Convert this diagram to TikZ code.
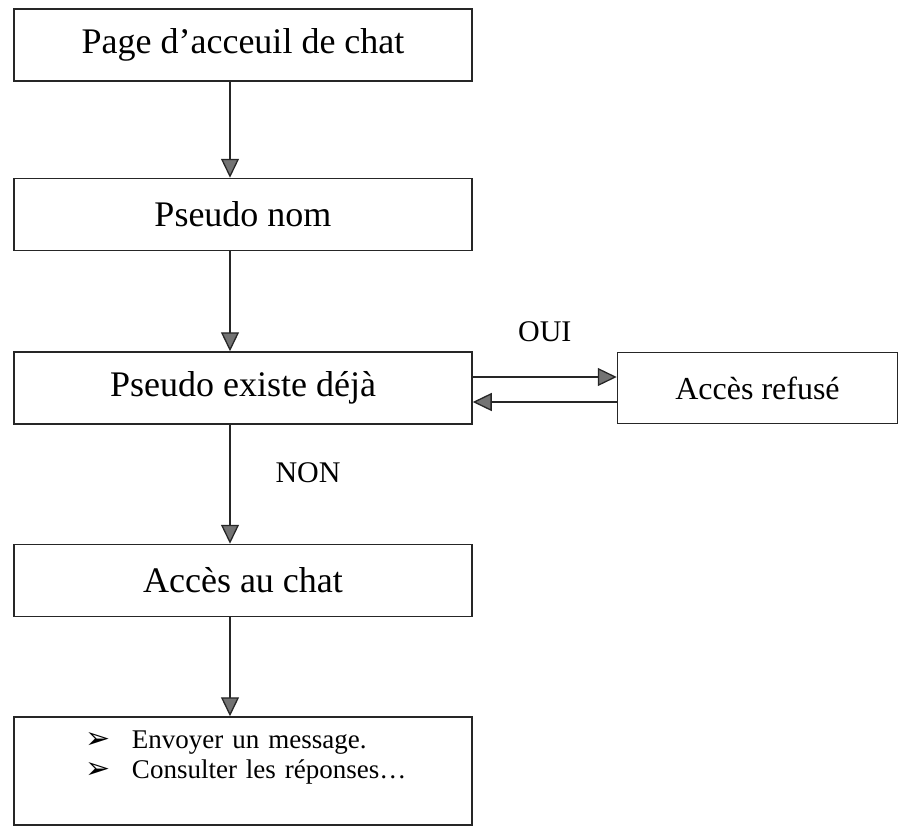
\documentclass[tikz,border=0pt]{standalone}
\usepackage{fontspec}
\setmainfont{Liberation Serif}
\newfontfamily\symfont{DejaVu Sans}
\usepackage{tikz}
\usetikzlibrary{positioning, arrows.meta}

\begin{document}
\begin{tikzpicture}[
    x=1pt, y=-1pt,
    box/.style={rectangle, draw=black!85, line width=1.5pt, minimum width=458pt, minimum height=72pt, inner sep=0pt, font=\fontsize{36pt}{40pt}\selectfont},
    sidebox/.style={box, minimum width=280pt, minimum height=71pt, font=\fontsize{32pt}{36pt}\selectfont},
    listbox/.style={box, text width=458pt, align=left, minimum height=108pt, inner ysep=14pt, font=\fontsize{27pt}{30pt}\selectfont},
    lbl/.style={font=\fontsize{30pt}{34pt}\selectfont},
    arrow/.style={-{Triangle[length=19pt, width=18pt, fill=black!55]}, line width=1.3pt, draw=black!85}
]
\useasboundingbox (0,0) rectangle (898,831);

% Step 1
\node (pageacc) [box] at (243,45) {Page d'acceuil de chat};

% Step 2
\node (pseudo) [box, below=96pt of pageacc] {Pseudo nom};

% Step 3 and the refusal branch
\node (exist) [box, below=100pt of pseudo] {Pseudo existe déjà};
\node (refus) [sidebox, right=144pt of exist] {Accès refusé};

% Step 4
\node (acces) [box, below=119pt of exist] {Accès au chat};

% Step 5
\node (actions) [listbox, below=99pt of acces] {%
    \hspace*{71pt}\makebox[47pt][l]{\symfont\fontsize{30pt}{30pt}\selectfont ➢}Envoyer un message.\\
    \hspace*{71pt}\makebox[47pt][l]{\symfont\fontsize{30pt}{30pt}\selectfont ➢}Consulter les réponses\ldots\rule[-32pt]{0pt}{32pt}};

% Connecting Arrows
\draw [arrow] ([xshift=-13pt]pageacc.south) -- ([xshift=-13pt]pseudo.north);
\draw [arrow] ([xshift=-13pt]pseudo.south) -- ([xshift=-13pt]exist.north);
\draw [arrow] ([xshift=-13pt]exist.south) -- ([xshift=-13pt]acces.north)
    node (non) [lbl, midway, xshift=78pt, yshift=12pt] {NON};
\draw [arrow] ([xshift=-13pt]acces.south) -- ([xshift=-13pt]actions.north);
\draw [arrow] ([yshift=11pt]exist.east) -- ([yshift=11pt]exist.east -| refus.west)
    node (oui) [lbl, midway, yshift=45pt] {OUI};
\draw [arrow] ([yshift=-14pt]exist.east -| refus.west) -- ([yshift=-14pt]exist.east);

\end{tikzpicture}
\end{document}
